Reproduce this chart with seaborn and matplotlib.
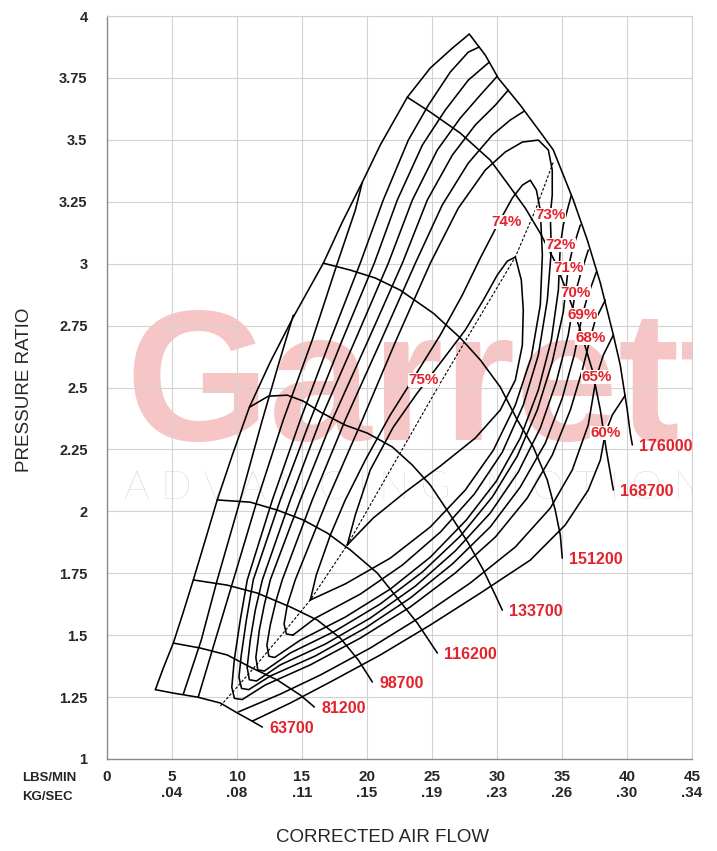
import numpy as np
import pandas as pd
import matplotlib
matplotlib.use("Agg")
import matplotlib.pyplot as plt
import seaborn as sns

# ---- data (x = lbs/min, y = pressure ratio) ----
surge_x = [3.72, 4.33, 5.10, 5.87, 6.64, 7.56, 8.48, 9.64, 10.95, 12.56, 14.33,
           16.64, 18.10, 19.64, 21.02, 23.10, 24.87, 26.56, 27.87]
surge_y = [1.28, 1.367, 1.468, 1.593, 1.723, 1.884, 2.046, 2.227, 2.42, 2.603, 2.784,
           3.002, 3.168, 3.329, 3.479, 3.672, 3.790, 3.870, 3.927]

speed_lines = {
    "63700": ([3.72, 5.10, 6.95, 8.72, 10.02, 11.02, 11.95],
              [1.28, 1.266, 1.250, 1.226, 1.186, 1.157, 1.129]),
    "81200": ([5.10, 7.18, 9.25, 11.02, 13.10, 14.87, 15.95],
              [1.468, 1.448, 1.420, 1.371, 1.319, 1.258, 1.210]),
    "98700": ([6.64, 9.25, 11.56, 14.10, 16.18, 17.95, 19.33, 20.41],
              [1.723, 1.702, 1.670, 1.614, 1.561, 1.488, 1.400, 1.311]),
    "116200": ([8.48, 11.02, 13.10, 15.10, 16.95, 18.72, 20.79, 22.33, 23.87, 25.41],
               [2.046, 2.037, 2.005, 1.965, 1.912, 1.844, 1.751, 1.650, 1.549, 1.428]),
    "133700": ([10.95, 12.41, 13.87, 15.10, 16.41, 18.33, 20.02, 21.95, 23.48, 24.87,
                26.41, 27.79, 28.95, 29.87, 30.41],
               [2.42, 2.465, 2.469, 2.445, 2.401, 2.348, 2.316, 2.260, 2.187, 2.106,
                1.985, 1.872, 1.763, 1.662, 1.601]),
    "151200": ([16.64, 18.72, 20.64, 22.56, 25.10, 27.18, 28.72, 30.25, 31.56, 32.79,
                33.87, 34.48, 34.87, 35.02],
               [3.002, 2.974, 2.942, 2.893, 2.800, 2.700, 2.611, 2.502, 2.369, 2.260,
                2.126, 2.005, 1.904, 1.811]),
    "168700": ([23.10, 24.87, 27.18, 29.48, 30.79, 32.18, 33.33, 34.48, 35.48, 36.41,
                37.33, 37.95, 38.41, 38.95],
               [3.672, 3.612, 3.527, 3.418, 3.325, 3.224, 3.123, 3.006, 2.873, 2.732,
                2.570, 2.409, 2.247, 2.086]),
    "176000": ([27.87, 29.10, 30.10, 31.79, 33.33, 34.33, 35.87, 36.95, 37.95, 38.95,
                39.48, 40.02, 40.25, 40.41],
               [3.927, 3.842, 3.749, 3.640, 3.531, 3.459, 3.257, 3.095, 2.922, 2.712,
                2.591, 2.409, 2.316, 2.268]),
}

# peak efficiency line (dashed)
peak_x = [8.72, 11.02, 13.56, 15.64, 18.48, 25.64, 31.41, 32.95, 34.33]
peak_y = [1.214, 1.351, 1.509, 1.642, 1.864, 2.518, 3.027, 3.216, 3.410]

# efficiency islands, each a list of (x, y) segments
eff_lines = {
    "60%": [([5.87, 7.25, 8.48, 10.25, 11.95, 13.18, 14.33],
             [1.262, 1.480, 1.723, 2.046, 2.369, 2.591, 2.792]),
            ([11.18, 14.10, 17.18, 21.02, 24.87, 28.72, 32.56, 35.25, 37.02, 37.95, 38.33, 38.87, 39.87],
             [1.153, 1.226, 1.311, 1.420, 1.541, 1.670, 1.803, 1.945, 2.086, 2.207, 2.316, 2.389, 2.469])],
    "65%": [([7.02, 8.33, 9.72, 11.56, 13.56, 15.79, 17.72, 19.10, 19.64],
             [1.250, 1.480, 1.723, 2.046, 2.369, 2.692, 3.002, 3.216, 3.329]),
            ([10.10, 13.33, 16.41, 20.25, 24.10, 27.95, 31.41, 34.10, 35.79, 37.02, 37.64, 38.18, 38.95],
             [1.190, 1.262, 1.339, 1.448, 1.573, 1.711, 1.856, 2.013, 2.167, 2.349, 2.542, 2.631, 2.712])],
    "68%": [([28.64, 27.79, 26.41, 24.72, 23.18, 21.25, 19.48, 17.18, 14.87, 12.72, 10.79, 10.25, 9.79,
              9.60, 9.80, 10.40, 12.18, 15.64, 19.48, 23.33, 26.79, 29.87, 32.33, 34.25, 35.64, 36.56,
              37.18, 37.56, 38.33],
             [3.875, 3.854, 3.774, 3.640, 3.499, 3.257, 3.002, 2.692, 2.369, 2.046, 1.723, 1.561, 1.400,
              1.290, 1.245, 1.240, 1.299, 1.380, 1.488, 1.614, 1.751, 1.896, 2.054, 2.227, 2.409, 2.570,
              2.700, 2.772, 2.853])],
    "69%": [([29.41, 27.79, 26.02, 24.26, 22.33, 20.56, 18.10, 15.64, 13.33, 11.25, 10.72, 10.33,
              10.15, 10.35, 10.90, 12.56, 16.02, 19.87, 23.33, 26.56, 29.48, 31.79, 33.72, 35.02, 35.94,
              36.56, 36.95, 37.64],
             [3.814, 3.741, 3.620, 3.479, 3.257, 3.002, 2.692, 2.369, 2.046, 1.723, 1.561, 1.420,
              1.330, 1.285, 1.280, 1.335, 1.416, 1.529, 1.650, 1.787, 1.937, 2.098, 2.276, 2.457, 2.631,
              2.792, 2.865, 2.966])],
    "70%": [([30.02, 28.72, 27.18, 25.41, 23.49, 21.64, 19.10, 16.41, 14.10, 11.95, 11.41, 11.02,
              10.78, 10.95, 11.50, 13.33, 16.79, 20.25, 23.72, 26.79, 29.48, 31.64, 33.33, 34.56, 35.48,
              36.02, 36.41, 37.02],
             [3.757, 3.681, 3.588, 3.459, 3.257, 3.002, 2.692, 2.369, 2.046, 1.723, 1.602, 1.480,
              1.370, 1.320, 1.315, 1.380, 1.464, 1.569, 1.698, 1.840, 1.993, 2.159, 2.336, 2.522, 2.712,
              2.881, 2.954, 3.055])],
    "71%": [([30.87, 29.87, 28.33, 26.56, 24.64, 22.72, 20.10, 17.33, 14.87, 12.56, 12.10, 11.72,
              11.45, 11.60, 12.10, 14.10, 17.56, 21.02, 24.26, 27.18, 29.64, 31.56, 33.10, 34.25, 35.10,
              35.48, 35.79, 36.41],
             [3.701, 3.640, 3.560, 3.438, 3.257, 3.002, 2.692, 2.369, 2.046, 1.723, 1.622, 1.521,
              1.410, 1.360, 1.355, 1.428, 1.517, 1.626, 1.755, 1.900, 2.058, 2.223, 2.409, 2.603, 2.805,
              2.982, 3.055, 3.156])],
    "72%": [([32.10, 31.02, 29.64, 27.79, 25.79, 23.72, 21.10, 18.33, 15.79, 13.48, 13.02, 12.56,
              12.30, 12.45, 12.90, 14.87, 18.33, 21.79, 24.87, 27.64, 29.95, 31.79, 33.18, 34.18, 34.72,
              34.87, 35.10, 35.72],
             [3.616, 3.580, 3.519, 3.406, 3.237, 3.002, 2.692, 2.369, 2.046, 1.723, 1.642, 1.541,
              1.460, 1.415, 1.410, 1.480, 1.573, 1.686, 1.815, 1.965, 2.122, 2.296, 2.490, 2.692, 2.893,
              3.075, 3.156, 3.277])],
    "73%": [([14.30, 13.80, 13.62, 13.87, 14.48, 16.95, 19.64, 22.25, 24.87, 27.02, 29.10, 30.64, 31.95,
              33.18, 33.95, 34.25, 34.25, 34.10, 34.18, 33.87, 33.18, 32.02, 30.41, 28.26, 25.64, 22.72,
              19.49, 16.03, 14.30],
             [1.500, 1.505, 1.545, 1.622, 1.723, 2.046, 2.369, 2.692, 3.002, 3.224, 3.378, 3.451, 3.491,
              3.499, 3.459, 3.378, 3.277, 3.196, 3.055, 2.853, 2.631, 2.429, 2.239, 2.070, 1.916, 1.783,
              1.666, 1.569, 1.500])],
    "74%": [([15.64, 16.10, 17.18, 18.33, 19.87, 21.79, 23.72, 25.64, 27.33, 28.72, 30.03, 31.18, 31.95,
              32.56, 33.03, 33.33, 33.49, 33.33, 32.64, 31.41, 29.72, 27.56, 24.87, 21.79, 18.33, 15.64],
             [1.642, 1.743, 1.904, 2.046, 2.207, 2.389, 2.550, 2.712, 2.873, 3.023, 3.156, 3.265, 3.317,
              3.337, 3.297, 3.216, 3.035, 2.833, 2.623, 2.429, 2.247, 2.086, 1.937, 1.811, 1.707, 1.642])],
    "75%": [([18.48, 19.10, 20.25, 22.02, 23.87, 25.64, 27.56, 28.95, 30.02, 30.79, 31.41, 31.87, 32.02,
              31.95, 31.41, 30.25, 28.33, 25.64, 22.95, 20.48, 18.48],
             [1.864, 1.985, 2.167, 2.340, 2.478, 2.599, 2.732, 2.853, 2.954, 3.010, 3.027, 2.934, 2.813,
              2.671, 2.530, 2.409, 2.296, 2.183, 2.078, 1.973, 1.864])],
}

eff_labels = ["75%", "74%", "73%", "72%", "71%", "70%", "69%", "68%", "65%", "60%"]
eff_label_x = [24.33, 30.72, 34.10, 34.87, 35.48, 36.02, 36.56, 37.18, 37.64, 38.33]
eff_label_y = [2.530, 3.168, 3.196, 3.075, 2.982, 2.881, 2.792, 2.700, 2.542, 2.316]

lbs_ticks = [0, 5, 10, 15, 20, 25, 30, 35, 40, 45]
kg_ticks = ["", ".04", ".08", ".11", ".15", ".19", ".23", ".26", ".30", ".34"]
pr_ticks = [1, 1.25, 1.5, 1.75, 2, 2.25, 2.5, 2.75, 3, 3.25, 3.5, 3.75, 4]

# ---- long table for seaborn ----
rows = []
for name, (xs, ys) in speed_lines.items():
    for i, (x, y) in enumerate(zip(xs, ys)):
        rows.append(("speed " + name, i, x, y))
for i, (x, y) in enumerate(zip(surge_x, surge_y)):
    rows.append(("surge", i, x, y))
for name, segs in eff_lines.items():
    for k, (xs, ys) in enumerate(segs):
        for i, (x, y) in enumerate(zip(xs, ys)):
            rows.append((f"eff {name} {k}", i, x, y))
df = pd.DataFrame(rows, columns=["curve", "order", "x", "y"])

sns.set_theme(style="white")
plt.rcParams["font.family"] = ["Liberation Sans", "DejaVu Sans"]

fig = plt.figure(figsize=(7.17, 8.51), dpi=100)
ax = fig.add_axes([107 / 717, 1 - 759 / 851, 585 / 717, 743 / 851])

red = "#e3232b"

# watermark
ax.text(1.45, 2.29, "Garrett", fontsize=133, color="#f6c6c6", fontweight="bold",
        ha="left", va="baseline", zorder=0.1, clip_on=True)
ax.text(1.3, 2.05, "A D V A N C I N G   M O T I O N", fontsize=29, color="#cccccc",
        family=["Lato", "DejaVu Sans"], fontweight="light", ha="left", va="baseline",
        zorder=0.1, clip_on=True)

sns.lineplot(data=df, x="x", y="y", units="curve", estimator=None, sort=False,
             color="black", linewidth=1.15, ax=ax, legend=False, zorder=3)
sns.lineplot(x=peak_x, y=peak_y, estimator=None, sort=False, color="black",
             linewidth=0.8, linestyle=(0, (2.5, 1.6)), ax=ax, zorder=3)

# speed labels at line ends
for name, (xs, ys) in speed_lines.items():
    ax.annotate(name, (xs[-1], ys[-1]), xytext=(5, -1), textcoords="offset points",
                ha="left", va="center", color=red, fontsize=11.5, fontweight="bold", zorder=6)

for lab, x, y in zip(eff_labels, eff_label_x, eff_label_y):
    ax.text(x, y, lab, ha="center", va="center", color=red, fontsize=11, fontweight="bold",
            zorder=6, bbox=dict(facecolor="white", edgecolor="none", pad=0.15))

ax.set_xlim(0, 45)
ax.set_ylim(1, 4)
ax.set_xticks(lbs_ticks)
ax.set_xticklabels([f"{a}\n{b}" for a, b in zip(lbs_ticks, kg_ticks)],
                   fontsize=11, fontweight="bold", linespacing=1.15)
ax.set_yticks(pr_ticks)
ax.set_yticklabels([f"{v:g}" for v in pr_ticks], fontsize=10.5, fontweight="bold")
ax.tick_params(axis="x", length=0, pad=8)
ax.tick_params(axis="y", length=5, width=0.8, color="#8a8a8a", pad=9)
ax.grid(True, color="#d2d2d2", linewidth=0.8)
ax.set_axisbelow(True)
for side in ["top", "right"]:
    ax.spines[side].set_color("#cfcfcf")
    ax.spines[side].set_linewidth(0.8)
for side in ["left", "bottom"]:
    ax.spines[side].set_color("#8a8a8a")
    ax.spines[side].set_linewidth(1.0)
ax.set_xlabel("")
ax.set_ylabel("")

fig.text(22 / 717, 1 - 778 / 851, "LBS/MIN", fontsize=9.5, fontweight="bold", va="center")
fig.text(22 / 717, 1 - 797 / 851, "KG/SEC", fontsize=9.5, fontweight="bold", va="center")
fig.text(383 / 717, 1 - 838 / 851, "CORRECTED AIR FLOW", fontsize=13.5, ha="center", va="center")
fig.text(25 / 717, 1 - 390 / 851, "PRESSURE RATIO", fontsize=13.5, rotation=90,
         ha="center", va="center")

fig.savefig("out.png", dpi=100)
